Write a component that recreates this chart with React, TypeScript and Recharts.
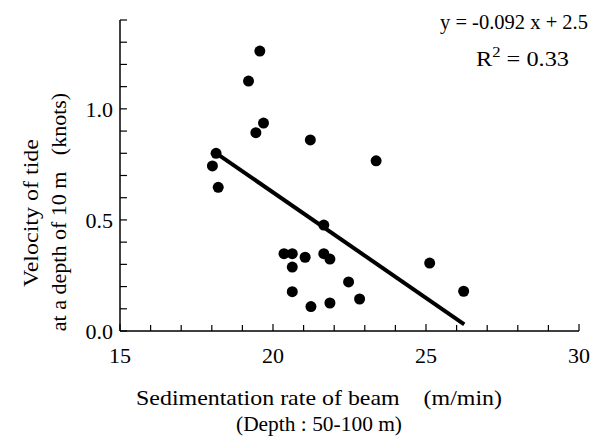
import { ScatterChart, Scatter, XAxis, YAxis, Label } from 'recharts';

// Sedimentation rate of beam (m/min) vs velocity of tide at 10 m (knots)
const sedimentationRate = [
  19.57, 19.2, 19.69, 19.44, 21.22, 18.14, 18.02, 18.21, 23.37, 21.66, 20.36, 20.63,
  21.05, 21.66, 21.86, 20.63, 22.47, 20.63, 22.83, 21.86, 21.24, 25.12, 26.23,
];
const tideVelocity = [
  1.26, 1.125, 0.936, 0.893, 0.86, 0.8, 0.743, 0.647, 0.766, 0.477, 0.348, 0.348,
  0.332, 0.348, 0.324, 0.288, 0.221, 0.177, 0.144, 0.126, 0.11, 0.306, 0.179,
];

// regression line as drawn (ends)
const fitRate = [18.15, 26.25];
const fitVelocity = [0.8, 0.03];

const xTicks = [15, 16, 17, 18, 19, 20, 21, 22, 23, 24, 25, 26, 27, 28, 29, 30];
const yTicks = [0, 0.1, 0.2, 0.3, 0.4, 0.5, 0.6, 0.7, 0.8, 0.9, 1.0, 1.1, 1.2, 1.3, 1.4];

const points = sedimentationRate.map((x, i) => ({ x, y: tideVelocity[i] }));
const fitLine = fitRate.map((x, i) => ({ x, y: fitVelocity[i] }));

const FONT = '"Liberation Serif", serif';

const XTick = (props: any) => {
  const { x, y, payload } = props;
  const major = payload.value % 5 === 0;
  return (
    <g>
      <line x1={x} y1={y} x2={x} y2={y - (major ? 7 : 6)} stroke="#000" strokeWidth={1.2} />
      {major && (
        <text x={x} y={y + 32} textAnchor="middle" fontFamily={FONT} fontSize={22} fill="#000">
          {payload.value}
        </text>
      )}
    </g>
  );
};

const YTick = (props: any) => {
  const { x, y, payload } = props;
  const v = payload.value;
  const major = Math.abs(v * 2 - Math.round(v * 2)) < 1e-6;
  return (
    <g>
      <line x1={x} y1={y} x2={x + 7} y2={y} stroke="#000" strokeWidth={1.2} />
      {major && (
        <text x={x - 7} y={y + 8} textAnchor="end" fontFamily={FONT} fontSize={22} fill="#000">
          {v.toFixed(1)}
        </text>
      )}
    </g>
  );
};

const Dot = (props: any) => <circle cx={props.cx} cy={props.cy} r={5.5} fill="#000" />;

const textStyle = { fontFamily: FONT, fontSize: 22, fill: '#000', whiteSpace: 'pre' as const };

export default function App() {
  return (
    <div style={{ position: 'absolute', left: 0, top: 0, width: 602, height: 439, background: '#fff' }}>
      <ScatterChart width={602} height={439} margin={{ top: 20, right: 23, bottom: 68, left: 60 }}>
        <XAxis
          type="number"
          dataKey="x"
          domain={[15, 30]}
          ticks={xTicks}
          interval={0}
          tickSize={0}
          tickMargin={0}
          tick={<XTick />}
          height={40}
          axisLine={{ stroke: '#000', strokeWidth: 1.5 }}
          tickLine={false}
          allowDataOverflow
        >
          <Label
            content={() => (
              <g>
                <text x={136} y={405} textLength={366} lengthAdjust="spacingAndGlyphs" style={textStyle}>
                  {'Sedimentation rate of beam    (m/min)'}
                </text>
                <text x={236} y={431} textLength={166} lengthAdjust="spacingAndGlyphs" style={textStyle}>
                  {'(Depth : 50-100 m)'}
                </text>
              </g>
            )}
          />
        </XAxis>
        <YAxis
          type="number"
          dataKey="y"
          domain={[0, 1.4]}
          ticks={yTicks}
          interval={0}
          tickSize={0}
          tickMargin={0}
          tick={<YTick />}
          width={60}
          axisLine={{ stroke: '#000', strokeWidth: 1.5 }}
          tickLine={false}
          allowDataOverflow
        >
          <Label
            content={() => (
              <g>
                <text
                  x={38}
                  y={213}
                  transform="rotate(-90 38 213)"
                  textAnchor="middle"
                  textLength={148}
                  lengthAdjust="spacingAndGlyphs"
                  style={textStyle}
                >
                  {'Velocity of tide'}
                </text>
                <text x={66} y={212} transform="rotate(-90 66 212)" textAnchor="middle" style={textStyle}>
                  {'at a depth of 10 m   (knots)'}
                </text>
              </g>
            )}
          />
        </YAxis>
        <Scatter data={points} shape={<Dot />} isAnimationActive={false} />
        <Scatter
          data={fitLine}
          shape={() => <g />}
          line={{ stroke: '#000', strokeWidth: 4 }}
          isAnimationActive={false}
        />
      </ScatterChart>
      <svg
        width={602}
        height={439}
        style={{ position: 'absolute', left: 0, top: 0, pointerEvents: 'none' }}
      >
        <text x={440} y={29} textLength={148} lengthAdjust="spacingAndGlyphs" style={{ ...textStyle, fontSize: 21.5 }}>
          {'y = -0.092 x + 2.5'}
        </text>
        <text x={476} y={66} textLength={93} lengthAdjust="spacingAndGlyphs" style={textStyle}>
          R
          <tspan dy={-9} fontSize={15}>
            2
          </tspan>
          <tspan dy={9}>{' = 0.33'}</tspan>
        </text>
      </svg>
    </div>
  );
}
